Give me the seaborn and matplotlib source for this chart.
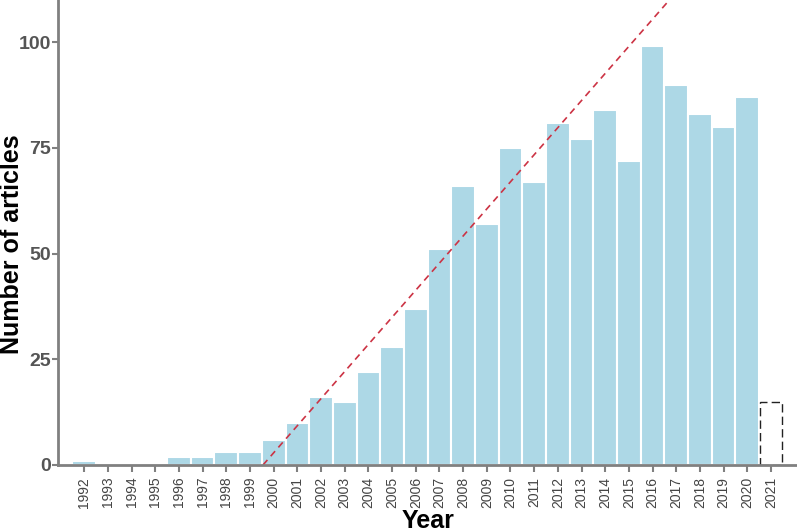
#!/usr/bin/env python3

import matplotlib
matplotlib.use("Agg")
import matplotlib.pyplot as plt
import numpy as np
import pandas as pd
import seaborn as sns

# colors
BAR = "#add8e6"
LINE = "#cc3344"
GREY = "#808080"

# data
years = list(range(1992, 2022))
articles = [1, 0, 0, 0, 2, 2, 3, 3, 6, 10, 16, 15, 22, 28, 37, 51, 66, 57, 75, 67,
            81, 77, 84, 72, 99, 90, 83, 80, 87, 15]
partial_year = 2021  # incomplete year, drawn as dashed outline

# trend line (starts at zero, slope in articles per year)
trend_start = 1999.55
trend_slope = 6.41

df = pd.DataFrame({"Year": [str(y) for y in years], "Articles": articles})

sns.set_style("ticks")
plt.rcParams["font.family"] = ["Liberation Sans", "DejaVu Sans"]

fig = plt.figure(figsize=(7.97, 5.32), dpi=100)
ax = fig.add_axes([0.073, 0.126, 0.927, 0.874])

sns.barplot(data=df, x="Year", y="Articles", ax=ax, color=BAR, width=1.0,
            edgecolor="white", linewidth=1.5, saturation=1)

# last bar is an incomplete year -> dashed outline only
last = ax.patches[years.index(partial_year)]
last.set_facecolor("none")
last.set_edgecolor("#222222")
last.set_linestyle((0, (6, 3)))
last.set_linewidth(1.0)
last.set_width(0.9)
last.set_x(years.index(partial_year) - 0.45)

# trend line, in category coordinates
x0 = trend_start - years[0]
xs = np.array([x0, x0 + 120 / trend_slope])
ax.plot(xs, (xs - x0) * trend_slope, color=LINE, linestyle=(0, (4, 3)), linewidth=1.2)

ax.set_xlim(-1.1, len(years) + 0.1)
ax.set_ylim(0, 110)
ax.set_yticks([0, 25, 50, 75, 100])

for side in ["top", "right"]:
    ax.spines[side].set_visible(False)
for side in ["left", "bottom"]:
    ax.spines[side].set_color(GREY)
    ax.spines[side].set_linewidth(2)

ax.tick_params(axis="both", colors=GREY, width=1.5, length=5)
ax.tick_params(axis="x", labelrotation=90, labelsize=10, labelcolor="#444444")
ax.tick_params(axis="y", labelsize=14, labelcolor="#555555", pad=1, length=4)
for lbl in ax.get_yticklabels():
    lbl.set_fontweight("bold")

ax.set_xlabel("Year", fontsize=18, fontweight="bold", color="black", labelpad=1)
ax.set_ylabel("Number of articles", fontsize=18, fontweight="bold", color="black")
ax.yaxis.set_label_coords(-0.046, 0.475)

fig.savefig("out.png", dpi=100)
